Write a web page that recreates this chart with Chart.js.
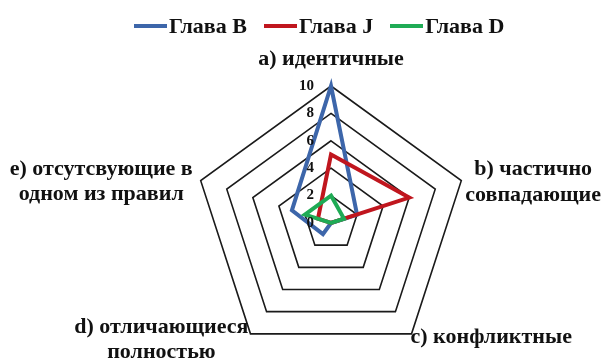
<!DOCTYPE html>
<html>
<head>
<meta charset="utf-8">
<script src="https://cdn.jsdelivr.net/npm/chart.js@4/dist/chart.umd.min.js"></script>
<style>
  body { margin: 0; background: #fff; }
  #wrap { position: relative; width: 607px; height: 361px; }
  #legend { position: absolute; left: 134px; top: 15px; display: flex; align-items: center;
            font: bold 22px "Liberation Serif", "Times New Roman", serif; line-height: 22px; color: #111; }
  #legend .item { display: flex; align-items: center; margin-right: 17px; }
  #legend .item:last-child { margin-right: 0; }
  #legend .swatch { width: 33px; height: 4px; margin-right: 2px; }
</style>
</head>
<body>
<div id="wrap">
  <canvas id="chart" width="607" height="361"></canvas>
  <div id="legend"></div>
</div>
<script>
const categories = [
  "a) идентичные",
  ["b) частично", "совпадающие"],
  "c) конфликтные",
  ["d) отличающиеся", "полностью"],
  ["e) отсутсвующие в", "одном из правил"]
];
const seriesNames = ["Глава B", "Глава J", "Глава D"];
const glavaB = [10, 2, 0, 1, 3];
const glavaJ = [5, 6, 0, 0, 1];
const glavaD = [2, 1, 0, 0, 2];
const tickValues = [0, 2, 4, 6, 8, 10];

const colors = ["#3d66aa", "#c0161e", "#1fab55"];
const serif = '"Liberation Serif", "Times New Roman", serif';

// where each category label sits relative to its outer vertex
const labelPlace = [
  { align: "center", dx: 0, base: [-21] },
  { align: "left", dx: 4, base: [-6, 20] },
  { align: "left", dx: -1, base: [9] },
  { align: "right", dx: -2, base: [-1, 24] },
  { align: "right", dx: -8, base: [-6, 19] }
];

const pointLabelsPlugin = {
  id: "pointLabelsCustom",
  afterDraw(chart) {
    const scale = chart.scales.r;
    const ctx = chart.ctx;
    ctx.save();
    ctx.fillStyle = "#111";
    ctx.textBaseline = "alphabetic";
    ctx.textAlign = "center";
    ctx.font = "bold 22px " + serif;
    chart.data.labels.forEach((lab, i) => {
      const lines = Array.isArray(lab) ? lab : [lab];
      const pos = scale.getPointPosition(i, scale.drawingArea);
      const p = labelPlace[i];
      const w = Math.max(...lines.map(t => ctx.measureText(t).width));
      let cx = pos.x + p.dx;
      if (p.align === "left") cx += w / 2;
      if (p.align === "right") cx -= w / 2;
      lines.forEach((t, k) => ctx.fillText(t, cx, pos.y + p.base[k]));
    });
    // tick numbers, to the left of the first axis
    ctx.font = "bold 15px " + serif;
    ctx.textAlign = "right";
    ctx.textBaseline = "middle";
    scale.ticks.forEach(t => {
      const pt = scale.getPointPositionForValue(0, t.value);
      ctx.fillText(t.label, pt.x - 17, pt.y);
    });
    ctx.restore();
  }
};

const datasets = [glavaB, glavaJ, glavaD].map((vals, i) => ({
  label: seriesNames[i],
  data: vals,
  borderColor: colors[i],
  borderWidth: 4,
  borderJoinStyle: "miter",
  fill: false,
  pointRadius: 0,
  order: 3 - i
}));

const chart = new Chart(document.getElementById("chart"), {
  type: "radar",
  data: { labels: categories, datasets: datasets },
  options: {
    responsive: false,
    animation: false,
    layout: { padding: { top: 86, left: 55, right: 0, bottom: 1 } },
    plugins: { legend: { display: false }, tooltip: { enabled: false } },
    scales: {
      r: {
        min: 0,
        max: 10,
        afterBuildTicks(scale) {
          scale.ticks = tickValues.map(v => ({ value: v }));
        },
        ticks: { display: false, stepSize: 2 },
        pointLabels: { display: false },
        angleLines: { display: false },
        grid: { color: "#1a1a1a", lineWidth: 1.6 }
      }
    }
  },
  plugins: [pointLabelsPlugin]
});

const legend = document.getElementById("legend");
chart.data.datasets.forEach(ds => {
  const item = document.createElement("div");
  item.className = "item";
  const sw = document.createElement("span");
  sw.className = "swatch";
  sw.style.background = ds.borderColor;
  const txt = document.createElement("span");
  txt.textContent = ds.label;
  item.appendChild(sw);
  item.appendChild(txt);
  legend.appendChild(item);
});
</script>
</body>
</html>
